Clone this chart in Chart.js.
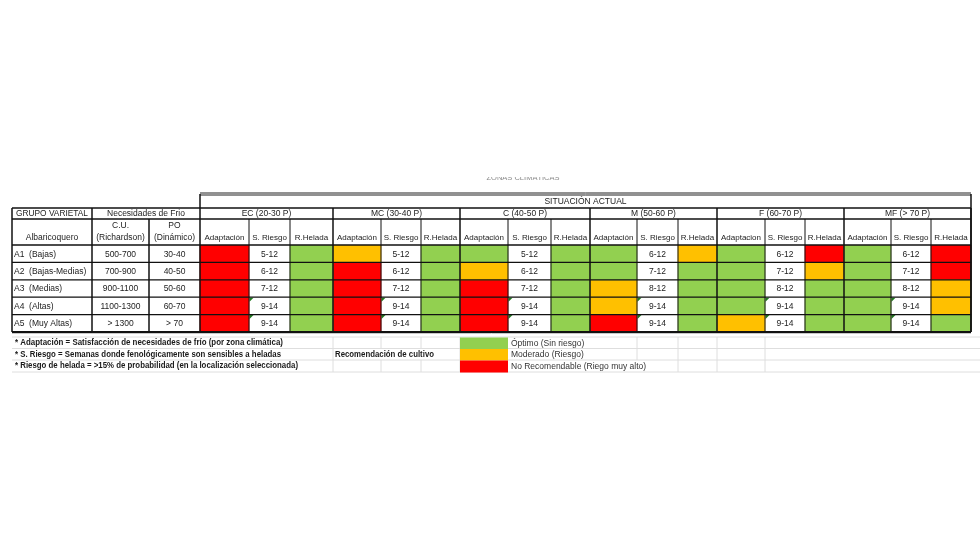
<!DOCTYPE html>
<html>
<head>
<meta charset="utf-8">
<script src="https://cdn.jsdelivr.net/npm/chart.js@4.4.1/dist/chart.umd.min.js"></script>
<style>
html, body { margin: 0; padding: 0; background: #fff; }
#wrap { width: 980px; height: 560px; position: relative; }
</style>
</head>
<body>
<div id="wrap"><canvas id="tabla"></canvas></div>
<script>
const grupos = ["A1  (Bajas)", "A2  (Bajas-Medias)", "A3  (Medias)", "A4  (Altas)", "A5  (Muy Altas)"];
const horasCU = ["500-700", "700-900", "900-1100", "1100-1300", "> 1300"];
const porcionesPO = ["30-40", "40-50", "50-60", "60-70", "> 70"];
const zonas = ["EC (20-30 P)", "MC (30-40 P)", "C (40-50 P)", "M (50-60 P)", "F (60-70 P)", "MF (> 70 P)"];
const subColumnas = [
    ["Adaptación", "S. Riesgo", "R.Helada"],
    ["Adaptación", "S. Riesgo", "R.Helada"],
    ["Adaptación", "S. Riesgo", "R.Helada"],
    ["Adaptación", "S. Riesgo", "R.Helada"],
    ["Adaptacion", "S. Riesgo", "R.Helada"],
    ["Adaptación", "S. Riesgo", "R.Helada"]
];

// O = optimo, M = moderado, N = no recomendable  (una fila por zona, A1..A5)
const adaptacion = [
    ["N", "N", "N", "N", "N"],
    ["M", "N", "N", "N", "N"],
    ["O", "M", "N", "N", "N"],
    ["O", "O", "M", "M", "N"],
    ["O", "O", "O", "O", "M"],
    ["O", "O", "O", "O", "O"]
];
const semanasRiesgo = [
    ["5-12", "6-12", "7-12", "9-14", "9-14"],
    ["5-12", "6-12", "7-12", "9-14", "9-14"],
    ["5-12", "6-12", "7-12", "9-14", "9-14"],
    ["6-12", "7-12", "8-12", "9-14", "9-14"],
    ["6-12", "7-12", "8-12", "9-14", "9-14"],
    ["6-12", "7-12", "8-12", "9-14", "9-14"]
];
const riesgoHelada = [
    ["O", "O", "O", "O", "O"],
    ["O", "O", "O", "O", "O"],
    ["O", "O", "O", "O", "O"],
    ["M", "O", "O", "O", "O"],
    ["N", "M", "O", "O", "O"],
    ["N", "N", "M", "M", "O"]
];

const niveles = ["O", "M", "N"];
const nivelColores = ["#92D050", "#FFC000", "#FF0000"];
const nivelTextos = ["Óptimo (Sin riesgo)", "Moderado (Riesgo)", "No Recomendable (Riego muy alto)"];
const notas = [
    "* Adaptación = Satisfacción de necesidades de frío (por zona climática)",
    "* S. Riesgo = Semanas donde fenológicamente son sensibles a heladas",
    "* Riesgo de helada = >15% de probabilidad (en la localización seleccionada)"
];

// column borders (table units), fixed columns then 3 per zone
const bordesFijos = [12, 92, 149, 200];
const bordesZonas = [
    [200, 249, 290, 333],
    [333, 381, 421, 460],
    [460, 508, 551, 590],
    [590, 637, 678, 717],
    [717, 765, 805, 844],
    [844, 891, 931, 971]
];

const FONT = '"Liberation Sans", Arial, sans-serif';

function BuildDatasets() {
    return niveles.map((nivel, n) => {
        const data = [];
        zonas.forEach((_, z) => {
            grupos.forEach((g, r) => {
                if (adaptacion[z][r] === nivel)
                    data.push({ x: [bordesZonas[z][0], bordesZonas[z][1]], y: g });
                if (riesgoHelada[z][r] === nivel)
                    data.push({ x: [bordesZonas[z][2], bordesZonas[z][3]], y: g });
            });
        });
        return {
            label: nivelTextos[n],
            data: data,
            backgroundColor: nivelColores[n],
            borderWidth: 0,
            grouped: false,
            barPercentage: 1,
            categoryPercentage: 1
        };
    });
}

const tablaPlugin = {
    id: "tablaPlugin",
    afterDatasetsDraw(chart) {
        const ctx = chart.ctx;
        const xs = chart.scales.x;
        const ys = chart.scales.y;
        const area = chart.chartArea;
        const px = v => xs.getPixelForValue(v);
        const rowH = (area.bottom - area.top) / grupos.length;
        const rowTop = i => ys.getPixelForValue(i) - rowH / 2;
        const subTop = area.top - 26;
        const headTop = subTop - 11;
        const sitTop = headTop - 14;
        const left = px(bordesFijos[0]);
        const right = px(bordesZonas[5][3]);

        ctx.save();

        function text(str, x, y, opts = {}) {
            ctx.font = (opts.bold ? "bold " : "") + (opts.size || 8.5) + "px " + FONT;
            ctx.fillStyle = opts.color || "#222";
            ctx.textAlign = opts.align || "center";
            ctx.textBaseline = "middle";
            if (opts.max) ctx.fillText(str, x, y, opts.max);
            else ctx.fillText(str, x, y);
        }

        function line(x1, y1, x2, y2, w, color) {
            ctx.beginPath();
            ctx.lineWidth = w;
            ctx.strokeStyle = color || "#111";
            ctx.moveTo(x1, y1);
            ctx.lineTo(x2, y2);
            ctx.stroke();
        }

        // faint excel gridlines below the table
        const gy = [area.bottom + 5, area.bottom + 16.5, area.bottom + 28, area.bottom + 40];
        gy.forEach(y => line(left, y, 980, y, 1, "#dedede"));
        const cubiertos = [
            [[12, 285], [460, 592]],
            [[12, 285], [335, 436], [460, 592]],
            [[12, 300], [460, 660]]
        ];
        const verticales = [333, 381, 421, 460, 508, 551, 590, 637, 678, 717, 765];
        cubiertos.forEach((spans, r) => {
            verticales.forEach(v => {
                if (spans.some(s => v > s[0] && v < s[1])) return;
                line(px(v), gy[r], px(v), gy[r + 1], 1, "#dedede");
            });
        });
        line(left, area.bottom + 1.5, right, area.bottom + 1.5, 1, "#c8c8c8");

        // faint clipped caption
        ctx.save();
        ctx.beginPath();
        ctx.rect(0, sitTop - 17, 980, 14);
        ctx.clip();
        text("ZONAS CLIMÁTICAS", px(523), sitTop - 16, { size: 7.5, color: "#8a8a8a" });
        ctx.restore();

        // header texts
        text("SITUACIÓN ACTUAL", (px(200) + right) / 2, sitTop + 7.5);
        text("GRUPO VARIETAL", (px(12) + px(92)) / 2, headTop + 6, { max: 72 });
        text("Necesidades de Frio", (px(92) + px(200)) / 2, headTop + 6);
        zonas.forEach((z, i) => {
            text(z, (px(bordesZonas[i][0]) + px(bordesZonas[i][3])) / 2, headTop + 6);
        });

        text("Albaricoquero", (px(12) + px(92)) / 2, subTop + 19);
        text("C.U.", (px(92) + px(149)) / 2, subTop + 7);
        text("(Richardson)", (px(92) + px(149)) / 2, subTop + 18.5, { max: 55 });
        text("PO", (px(149) + px(200)) / 2, subTop + 7);
        text("(Dinámico)", (px(149) + px(200)) / 2, subTop + 18.5, { max: 49 });
        zonas.forEach((_, z) => {
            subColumnas[z].forEach((s, k) => {
                const a = px(bordesZonas[z][k]), b = px(bordesZonas[z][k + 1]);
                text(s, (a + b) / 2, subTop + 19, { size: 8, max: b - a - 3 });
            });
        });

        // body texts
        grupos.forEach((g, r) => {
            const cy = rowTop(r) + rowH / 2 + 0.5;
            text(g, px(14), cy, { align: "left", max: 78 });
            text(horasCU[r], (px(92) + px(149)) / 2, cy);
            text(porcionesPO[r], (px(149) + px(200)) / 2, cy);
            zonas.forEach((_, z) => {
                text(semanasRiesgo[z][r], (px(bordesZonas[z][1]) + px(bordesZonas[z][2])) / 2, cy);
            });
        });

        // comment markers in S. Riesgo cells (A4, A5)
        ctx.fillStyle = "#1f7a1f";
        zonas.forEach((_, z) => {
            [3, 4].forEach(r => {
                const x = px(bordesZonas[z][1]) + 0.5, y = rowTop(r) + 0.5;
                ctx.beginPath();
                ctx.moveTo(x, y);
                ctx.lineTo(x + 4, y);
                ctx.lineTo(x, y + 4);
                ctx.closePath();
                ctx.fill();
            });
        });

        // grid lines
        line(px(200), sitTop - 1, right, sitTop - 1, 1, "#222");
        line(px(200), sitTop + 1, right, sitTop + 1, 1, "#222");
        line(px(200), sitTop, px(200), area.bottom, 1.5);
        line(right, sitTop, right, area.bottom, 1.5);
        line(left, headTop, right, headTop, 1.5);
        line(left, subTop, right, subTop, 1.5);
        line(left, area.top, right, area.top, 1.5);
        for (let r = 1; r < grupos.length; r++)
            line(left, rowTop(r), right, rowTop(r), 1.2);
        line(left, area.bottom, right, area.bottom, 1.8);

        line(left, headTop, left, area.bottom, 1.5);
        line(px(92), headTop, px(92), area.bottom, 1.5);
        line(px(149), subTop, px(149), area.bottom, 1.5);
        bordesZonas.forEach(b => {
            line(px(b[3]), headTop, px(b[3]), area.bottom, 1.5);
            line(px(b[1]), subTop, px(b[1]), area.bottom, 1);
            line(px(b[2]), subTop, px(b[2]), area.bottom, 1);
        });

        // footnotes
        const notasAncho = [268, 266, 283];
        notas.forEach((n, i) => {
            text(n, px(15), (gy[i] + gy[i + 1]) / 2, { size: 8.5, bold: true, align: "left", max: notasAncho[i], color: "#1a1a1a" });
        });
        text("Recomendación de cultivo", px(335), (gy[1] + gy[2]) / 2, { size: 8.5, bold: true, align: "left", max: 99, color: "#1a1a1a" });

        // legend swatches
        nivelColores.forEach((c, i) => {
            ctx.fillStyle = c;
            ctx.fillRect(px(460), gy[i] + 0.5, px(508) - px(460), gy[i + 1] - gy[i]);
            text(nivelTextos[i], px(511), (gy[i] + gy[i + 1]) / 2 + 0.5, { size: 8.5, align: "left", color: "#333", max: 148 });
        });

        ctx.restore();
    }
};

new Chart(document.getElementById("tabla"), {
    type: "bar",
    data: {
        labels: grupos,
        datasets: BuildDatasets()
    },
    options: {
        indexAxis: "y",
        responsive: true,
        maintainAspectRatio: false,
        animation: false,
        layout: {
            padding: { top: 245, bottom: 228, left: 0, right: 0 }
        },
        scales: {
            x: { type: "linear", min: 0, max: 980, display: false },
            y: { type: "category", display: false, offset: true }
        },
        plugins: {
            legend: { display: false },
            tooltip: { enabled: false }
        }
    },
    plugins: [tablaPlugin]
});
</script>
</body>
</html>
